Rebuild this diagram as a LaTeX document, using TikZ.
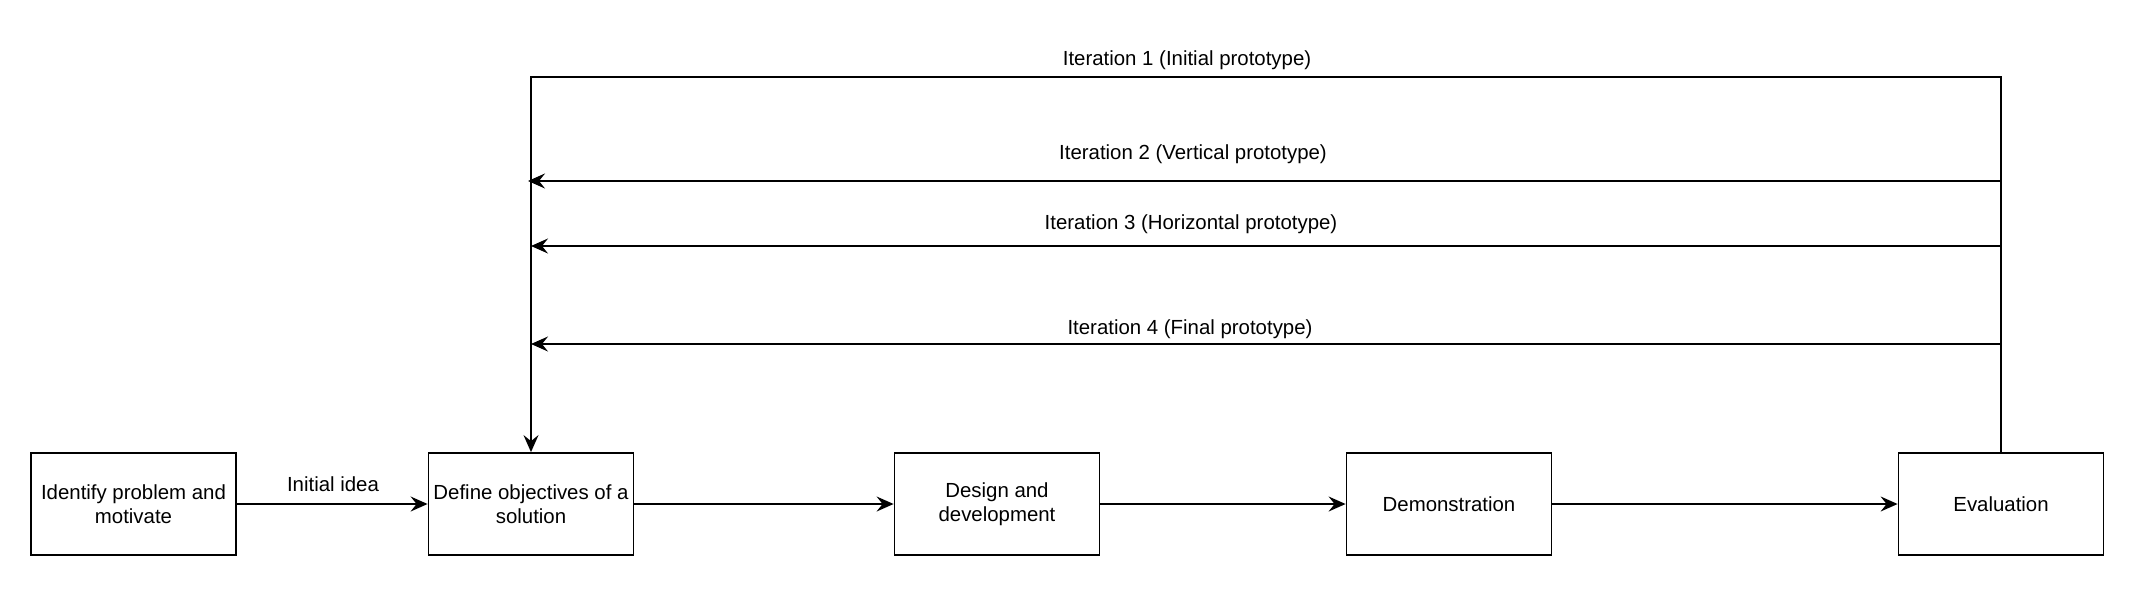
\documentclass[tikz,border=0pt]{standalone}
\usepackage{fontspec}
\setmainfont{Liberation Sans}
\usetikzlibrary{arrows.meta}
\begin{document}
\begin{tikzpicture}[x=0.5pt,y=-0.5pt,
  box/.style={draw,line width=0.9pt,minimum width=102.5pt,minimum height=51pt,align=center,inner sep=1pt,font=\fontsize{10.2pt}{12.2pt}\selectfont},
  lbl/.style={font=\fontsize{10.2pt}{12.2pt}\selectfont,inner sep=0pt},
  conn/.style={line width=0.9pt,-{Stealth[length=8.5pt,width=7.5pt,inset=3pt]}}]
\useasboundingbox (0,0) rectangle (2130,590);
\node[box] (b1) at (133.5,504) {Identify problem and\\motivate};
\node[box] (b2) at (531,504) {Define objectives of a\\solution};
\node[box] (b3) at (997,504) {Design and\\development};
\node[box] (b4) at (1449,504) {Demonstration};
\node[box] (b5) at (2001,504) {Evaluation};
\draw[conn] (b1) -- (b2);
\node[lbl] (li) at (333,484) {Initial idea};
\draw[conn] (b2) -- (b3);
\draw[conn] (b3) -- (b4);
\draw[conn] (b4) -- (b5);
\coordinate (t1) at (2001,77);
\draw[conn] (b5.north) -- (t1) -| (b2.north);
\node[lbl] (l1) at (1187,60) {Iteration 1 (Initial prototype)};
\coordinate (r2) at (2001,181); \coordinate (e2) at (528,181);
\coordinate (r3) at (2001,246); \coordinate (e3) at (531,246);
\coordinate (r4) at (2001,344); \coordinate (e4) at (531,344);
\draw[conn] (r2) -- (e2);
\draw[conn] (r3) -- (e3);
\draw[conn] (r4) -- (e4);
\node[lbl] (l2) at (1193,154) {Iteration 2 (Vertical prototype)};
\node[lbl] (l3) at (1191,224) {Iteration 3 (Horizontal prototype)};
\node[lbl] (l4) at (1190,329) {Iteration 4 (Final prototype)};
\end{tikzpicture}
\end{document}
